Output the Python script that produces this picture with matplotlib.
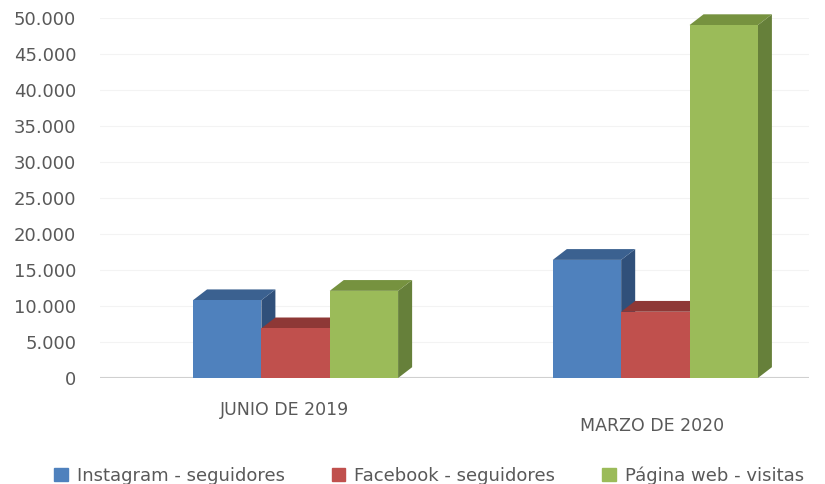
import matplotlib
matplotlib.use("Agg")
import matplotlib.pyplot as plt
from matplotlib.patches import Polygon, Patch
import numpy as np

categorias = ["JUNIO DE 2019", "MARZO DE 2020"]
series = ["Instagram - seguidores", "Facebook - seguidores", "Página web - visitas"]
instagram = [10800, 16400]
facebook = [6900, 9200]
web = [12100, 49000]
yticks = [0, 5000, 10000, 15000, 20000, 25000, 30000, 35000, 40000, 45000, 50000]

colores = ["#4F81BD", "#C0504D", "#9BBB59"]
arriba = ["#3B6190", "#8E3836", "#76923F"]
lado = ["#30507A", "#7A2F2D", "#66803A"]
gris = "#595959"

fig = plt.figure(figsize=(8.25, 4.84), dpi=100)
ax = fig.add_axes([0.121, 0.219, 0.86, 0.744])
ax.set_xlim(-0.544, 1.428)
ax.set_ylim(0, 50000)

ancho = 0.19
dx, dy = 0.039, 1500   # profundidad falsa 3D
x = np.arange(len(categorias), dtype=float)

for y in yticks[1:]:
    ax.axhline(y, color="#F3F3F3", lw=0.8, zorder=0)
ax.axhline(0, color="#D0D0D0", lw=1.5, zorder=1)

valores = [instagram, facebook, web]
for j in range(len(categorias)):
    for i, vals in enumerate(valores):
        x0 = x[j] + (i - 1) * ancho - ancho / 2
        x1 = x0 + ancho
        h = vals[j]
        ax.add_patch(Polygon([(x1, 0), (x1 + dx, dy), (x1 + dx, h + dy), (x1, h)],
                             closed=True, fc=lado[i], ec="none", zorder=2 + 3 * i, clip_on=False))
        ax.add_patch(Polygon([(x0, h), (x0 + dx, h + dy), (x1 + dx, h + dy), (x1, h)],
                             closed=True, fc=arriba[i], ec="none", zorder=3 + 3 * i, clip_on=False))
        ax.bar(x0, h, width=ancho, align="edge", color=colores[i], zorder=4 + 3 * i, clip_on=False)

ax.set_yticks(yticks)
ax.set_yticklabels([f"{v:,.0f}".replace(",", ".") for v in yticks], color=gris, fontsize=13)
ax.tick_params(axis="y", length=0, pad=17)
ax.set_xticks([])
for s in ax.spines.values():
    s.set_visible(False)

ax.text(x[0] - 0.03, -4500, categorias[0], ha="center", va="center", color=gris, fontsize=12.5)
ax.text(x[1] - 0.01, -6600, categorias[1], ha="center", va="center", color=gris, fontsize=12.5)

handles = [Patch(color=c) for c in colores]
fig.legend(handles, series, loc="center", bbox_to_anchor=(0.52, 0.018), ncol=3, frameon=False,
           fontsize=13, labelcolor=gris, handlelength=0.75, handleheight=0.75,
           handletextpad=0.5, columnspacing=2.6)

fig.savefig("out.png", dpi=100)
